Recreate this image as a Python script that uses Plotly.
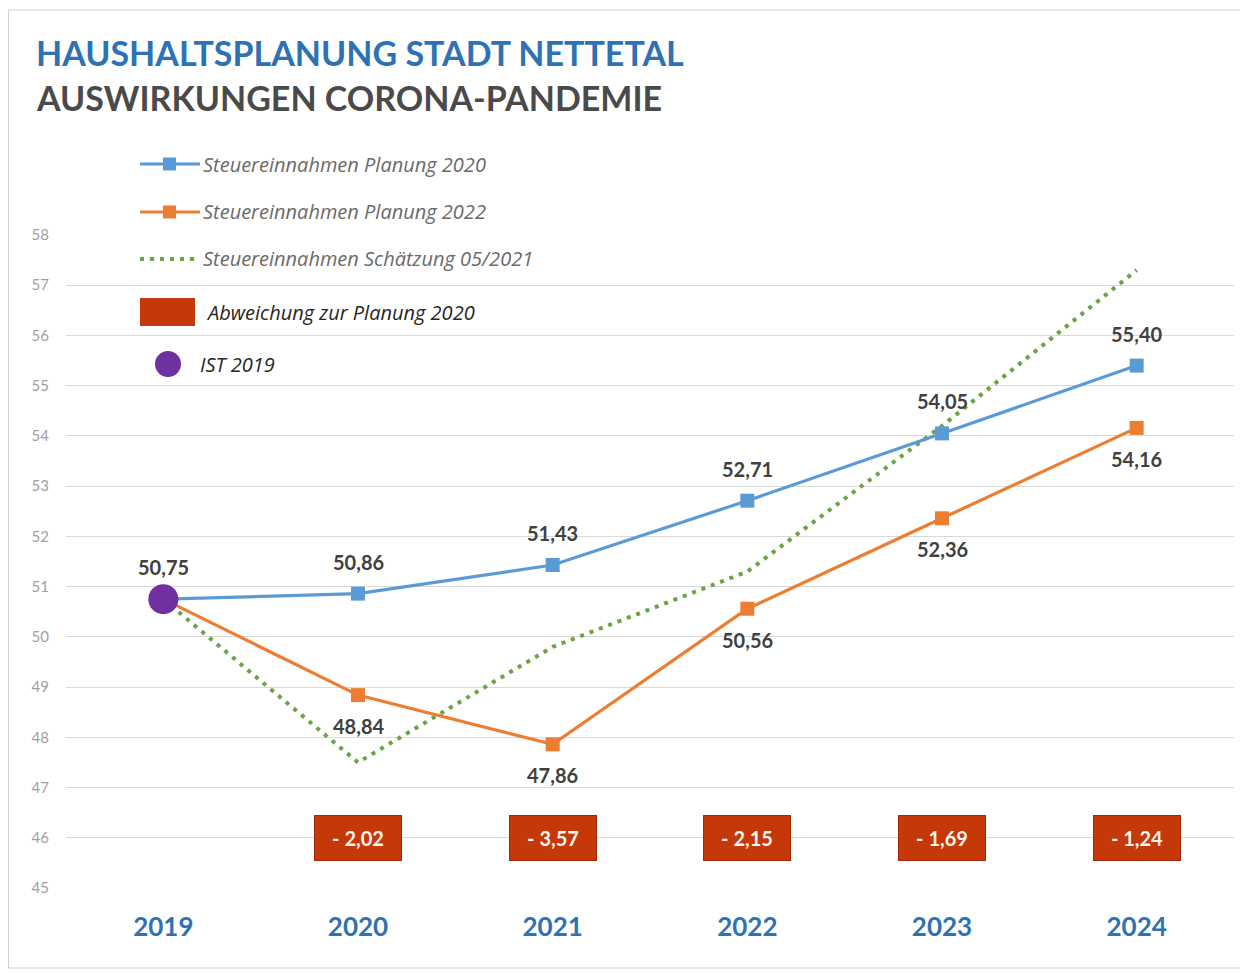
import plotly.graph_objects as go

years = ["2019", "2020", "2021", "2022", "2023", "2024"]
plan_2020 = [50.75, 50.86, 51.43, 52.71, 54.05, 55.40]
plan_2022 = [50.75, 48.84, 47.86, 50.56, 52.36, 54.16]
schaetzung_2021 = [50.75, 47.5, 49.8, 51.3, 54.2, 57.3]
abweichung = [None, -2.02, -3.57, -2.15, -1.69, -1.24]
ist_2019 = [50.75]
y_ticks = list(range(45, 59))

BLUE = "#5B9BD5"
ORANGE = "#ED7D31"
GREEN = "#6BA543"
PURPLE = "#7030A0"
RED = "#C4380A"
LABEL = "#404040"
FONT = "Lato"
LEGFONT = "Open Sans"

OFF = 8  # page body margin
W, H = 1240, 966
L, R, T, B = 66 - OFF, 1234 - OFF, 235 - OFF, 888 - OFF


def px(xref_px):
    return (xref_px - OFF - L) / (R - L)


def py(yref_px):
    return (B - (yref_px - OFF)) / (B - T)


def de(v):
    return f"{v:.2f}".replace(".", ",")


fig = go.Figure()

fig.add_trace(go.Scatter(
    x=years, y=schaetzung_2021, mode="lines",
    line=dict(color=GREEN, width=4, dash="4px,6px"),
    name="Steuereinnahmen Schätzung 05/2021", showlegend=False))

fig.add_trace(go.Scatter(
    x=years, y=plan_2022, mode="lines+markers",
    line=dict(color=ORANGE, width=3.2),
    marker=dict(symbol="square", size=14, color=ORANGE),
    name="Steuereinnahmen Planung 2022", showlegend=False))

fig.add_trace(go.Scatter(
    x=years, y=plan_2020, mode="lines+markers",
    line=dict(color=BLUE, width=3.2),
    marker=dict(symbol="square", size=14, color=BLUE),
    name="Steuereinnahmen Planung 2020", showlegend=False))

fig.add_trace(go.Scatter(
    x=years[:1], y=ist_2019, mode="markers",
    marker=dict(symbol="circle", size=30, color=PURPLE),
    name="IST 2019", showlegend=False))

annotations = []
# data labels
for i, v in enumerate(plan_2020):
    annotations.append(dict(x=i, y=v, xref="x", yref="y", text=de(v),
                            showarrow=False, yshift=32,
                            font=dict(family=FONT, size=20, color=LABEL, weight="bold")))
for i, v in enumerate(plan_2022):
    if i == 0:
        continue
    annotations.append(dict(x=i, y=v, xref="x", yref="y", text=de(v),
                            showarrow=False, yshift=-31,
                            font=dict(family=FONT, size=20, color=LABEL, weight="bold")))
# deviation boxes
for i, d in enumerate(abweichung):
    if d is None:
        continue
    annotations.append(dict(x=i, y=46, xref="x", yref="y",
                            text="- " + de(abs(d)), showarrow=False,
                            bgcolor=RED, bordercolor="#A02A05", borderwidth=1,
                            width=86, height=44, borderpad=0,
                            font=dict(family=FONT, size=20, color="#FFF4EA", weight="bold")))

# title
annotations.append(dict(x=px(34), y=py(53), xref="paper", yref="paper",
                        xanchor="left", yanchor="middle", showarrow=False,
                        text="HAUSHALTSPLANUNG STADT NETTETAL",
                        font=dict(family=FONT, size=34, color="#2E72B4", weight="bold")))
annotations.append(dict(x=px(34), y=py(98), xref="paper", yref="paper",
                        xanchor="left", yanchor="middle", showarrow=False,
                        text="AUSWIRKUNGEN CORONA-PANDEMIE",
                        font=dict(family=FONT, size=34, color="#4A4A4A", weight="bold")))

shapes = []
# legend
leg = [
    ("Steuereinnahmen Planung 2020", 164, "line", BLUE, "#6A6A6A"),
    ("Steuereinnahmen Planung 2022", 212, "line", ORANGE, "#6A6A6A"),
    ("Steuereinnahmen Schätzung 05/2021", 259, "dot", GREEN, "#6A6A6A"),
    ("Abweichung zur Planung 2020", 312, "rect", RED, "#262626"),
    ("IST 2019", 364, "circle", PURPLE, "#262626"),
]
for text, yp, kind, col, tcol in leg:
    tx = 201
    if kind == "line":
        shapes.append(dict(type="line", xref="paper", yref="paper",
                           x0=px(140), x1=px(200), y0=py(yp), y1=py(yp),
                           line=dict(color=col, width=3)))
        shapes.append(dict(type="rect", xref="paper", yref="paper",
                           x0=px(163), x1=px(176), y0=py(yp - 6.5), y1=py(yp + 6.5),
                           fillcolor=col, line=dict(width=0)))
    elif kind == "dot":
        shapes.append(dict(type="line", xref="paper", yref="paper",
                           x0=px(140), x1=px(200), y0=py(yp), y1=py(yp),
                           line=dict(color=col, width=4, dash="4px,6px")))
    elif kind == "rect":
        shapes.append(dict(type="rect", xref="paper", yref="paper",
                           x0=px(140), x1=px(195), y0=py(326), y1=py(298),
                           fillcolor=col, line=dict(width=0)))
        tx = 204
    else:
        shapes.append(dict(type="circle", xref="paper", yref="paper",
                           x0=px(155), x1=px(181), y0=py(yp + 13), y1=py(yp - 13),
                           fillcolor=col, line=dict(width=0)))
        tx = 198
    annotations.append(dict(x=px(tx), y=py(yp), xref="paper", yref="paper",
                            xanchor="left", yanchor="middle", showarrow=False,
                            text=text,
                            font=dict(family=LEGFONT, size=20, color=tcol, style="italic")))

# outer frame
shapes.append(dict(type="rect", xref="paper", yref="paper",
                   x0=px(8.5), x1=px(1245), y0=py(968), y1=py(10),
                   line=dict(color="#D0D0D0", width=1), fillcolor="rgba(0,0,0,0)",
                   layer="below"))

fig.update_layout(
    width=W, height=H,
    margin=dict(l=L, r=W - R, t=T, b=H - B),
    paper_bgcolor="white", plot_bgcolor="white",
    annotations=annotations, shapes=shapes,
    showlegend=False,
    xaxis=dict(type="category", categoryorder="array", categoryarray=years,
               range=[-0.5, 5.5], showgrid=False, zeroline=False, showline=False,
               ticks="outside", ticklen=16, tickcolor="rgba(0,0,0,0)",
               tickfont=dict(family=FONT, size=26, color="#2E72B4", weight="bold")),
    yaxis=dict(range=[45, 58], tickvals=y_ticks, showgrid=True,
               gridcolor="#D9D9D9", gridwidth=1, zeroline=False, showline=False,
               ticks="outside", ticklen=13, tickcolor="rgba(0,0,0,0)",
               tickfont=dict(family=FONT, size=15, color="#A0A0A0")),
)

fig.write_html("out.html")
